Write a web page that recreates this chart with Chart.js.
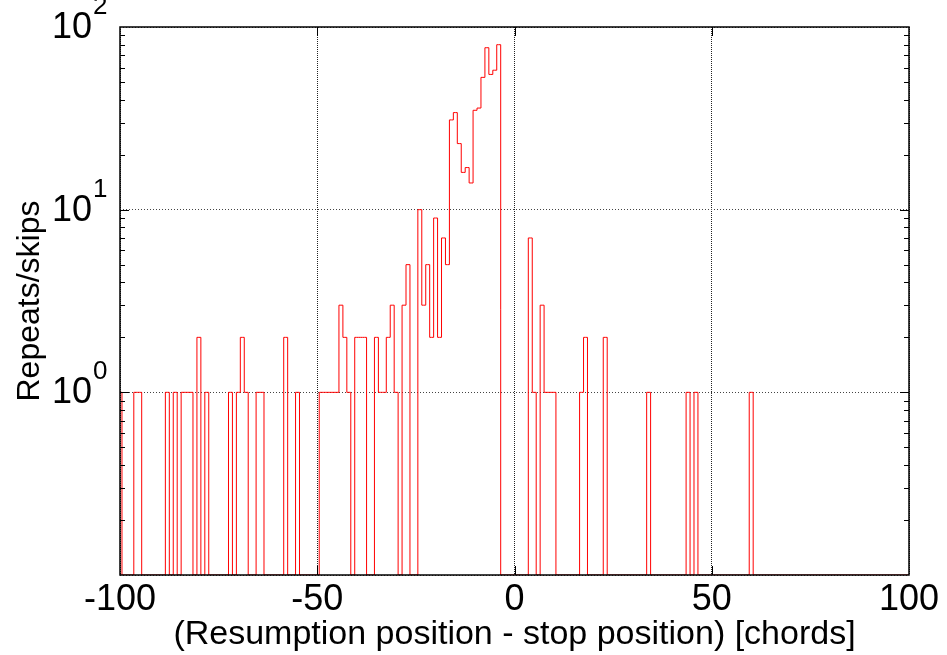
<!DOCTYPE html>
<html>
<head>
<meta charset="utf-8">
<title>Repeats/skips</title>
<script src="https://cdn.jsdelivr.net/npm/chart.js@4.4.1/dist/chart.umd.min.js"></script>
<style>
    html, body { margin: 0; padding: 0; background: #fff; }
</style>
</head>
<body>
<canvas id="grafico" width="947" height="655"></canvas>
<script>
// Datos del histograma: una cuenta por cada posicion entera, desde -100 hasta 100
const primeraPosicion = -100;
const repeticiones = [
    1, 0, 0, 0, 1, 1, 0, 0, 0, 0,          // -100 .. -91
    0, 0, 1, 0, 1, 0, 1, 1, 1, 0,          // -90 .. -81
    2, 0, 1, 0, 0, 0, 0, 0, 1, 0,          // -80 .. -71
    1, 2, 1, 0, 0, 1, 1, 0, 0, 0,          // -70 .. -61
    0, 0, 2, 0, 0, 1, 0, 0, 0, 0,          // -60 .. -51
    0, 1, 1, 1, 1, 1, 3, 2, 1, 0,          // -50 .. -41
    2, 2, 2, 0, 0, 2, 1, 1, 2, 3,          // -40 .. -31
    1, 0, 3, 5, 0, 0, 10, 3, 5, 2,         // -30 .. -21
    9, 2, 7, 5, 31, 34, 23, 16, 17, 14,    // -20 .. -11
    35, 36, 53, 77, 55, 58, 80, 0, 0, 0,   // -10 .. -1
    0, 0, 0, 0, 7, 1, 0, 3, 1, 1,          // 0 .. 9
    1, 0, 0, 0, 0, 0, 0, 1, 2, 0,          // 10 .. 19
    0, 0, 0, 2, 0, 0, 0, 0, 0, 0,          // 20 .. 29
    0, 0, 0, 0, 1, 0, 0, 0, 0, 0,          // 30 .. 39
    0, 0, 0, 0, 1, 0, 1, 0, 0, 0,          // 40 .. 49
    0, 0, 0, 0, 0, 0, 0, 0, 0, 0,          // 50 .. 59
    1, 0, 0, 0, 0, 0, 0, 0, 0, 0,          // 60 .. 69
    0, 0, 0, 0, 0, 0, 0, 0, 0, 0,          // 70 .. 79
    0, 0, 0, 0, 0, 0, 0, 0, 0, 0,          // 80 .. 89
    0, 0, 0, 0, 0, 0, 0, 0, 0, 0,          // 90 .. 99
    0                                      // 100
];
const ticksX = [-100, -50, 0, 50, 100];
const exponentesY = [0, 1, 2];        // etiquetas 10^0, 10^1, 10^2
const minimoY = 0.1;
const maximoY = 100;

const fuente = "'Liberation Sans', Arial, Helvetica, sans-serif";
Chart.defaults.font.family = fuente;

// Las cuentas en cero no existen en escala log: se dibujan en el piso del eje
const puntos = repeticiones.map((c, i) => ({ x: primeraPosicion + i, y: c > 0 ? c : minimoY }));

function esDecada(v) {
    const l = Math.log10(v);
    return Math.abs(l - Math.round(l)) < 1e-9;
}

// Plugin para el marco, las marcas hacia adentro y las etiquetas 10^n
const marcoPlugin = {
    id: 'marco',
    afterDatasetsDraw(chart) {
        const { ctx, chartArea: a, scales: { x, y } } = chart;
        ctx.save();

        ctx.strokeStyle = '#000';
        ctx.lineWidth = 1;
        ctx.beginPath();
        // marcas del eje x (abajo y arriba)
        ticksX.slice(1, -1).forEach(v => {
            const px = Math.round(x.getPixelForValue(v)) + 0.5;
            ctx.moveTo(px, a.bottom); ctx.lineTo(px, a.bottom - 9);
            ctx.moveTo(px, a.top); ctx.lineTo(px, a.top + 9);
        });
        // marcas del eje y, mayores y menores (izquierda y derecha)
        for (let d = minimoY; d < maximoY; d *= 10) {
            for (let k = 1; k < 10; k++) {
                const v = d * k;
                if (v <= minimoY * 1.0001) continue;
                const py = Math.round(y.getPixelForValue(v)) + 0.5;
                const largo = k === 1 ? 9 : 5;
                ctx.moveTo(a.left, py); ctx.lineTo(a.left + largo, py);
                ctx.moveTo(a.right, py); ctx.lineTo(a.right - largo, py);
            }
        }
        ctx.stroke();

        ctx.lineWidth = 1.5;
        ctx.strokeRect(a.left, a.top, a.right - a.left, a.bottom - a.top);

        // etiquetas con exponente
        ctx.fillStyle = '#000';
        exponentesY.forEach(e => {
            const py = y.getPixelForValue(Math.pow(10, e));
            ctx.font = '36px ' + fuente;
            ctx.textAlign = 'right';
            ctx.textBaseline = 'middle';
            ctx.fillText('10', a.left - 28, py + 1);
            ctx.font = '26px ' + fuente;
            ctx.textAlign = 'left';
            ctx.textBaseline = 'alphabetic';
            ctx.fillText(String(e), a.left - 27, py - 13);
        });
        ctx.restore();
    }
};

const ctx = document.getElementById('grafico').getContext('2d');
const miGrafico = new Chart(ctx, {
    type: 'line',
    data: {
        datasets: [{
            label: 'Repeats/skips',
            data: puntos,
            borderColor: '#ff0000',
            borderWidth: 1,
            pointRadius: 0,
            stepped: 'middle',
            fill: false
        }]
    },
    options: {
        responsive: false,
        animation: false,
        layout: { padding: { top: 27, right: 38, left: 0, bottom: 0 } },
        plugins: {
            legend: { display: false },
            tooltip: { enabled: false }
        },
        scales: {
            x: {
                type: 'linear',
                min: -100,
                max: 100,
                afterBuildTicks: eje => { eje.ticks = ticksX.map(v => ({ value: v })); },
                afterFit: eje => { eje.height = 80; },
                grid: { color: '#222', drawTicks: false },
                border: { display: false, dash: [1, 1] },
                ticks: {
                    color: '#000',
                    font: { size: 36 },
                    padding: 3,
                    maxRotation: 0,
                    autoSkip: false,
                    callback: v => String(v)
                },
                title: {
                    display: true,
                    text: '(Resumption position - stop position) [chords]',
                    color: '#000',
                    font: { size: 34 },
                    padding: { top: 0, bottom: 0 }
                }
            },
            y: {
                type: 'logarithmic',
                min: minimoY,
                max: maximoY,
                afterFit: eje => { eje.width = 120; },
                grid: {
                    color: c => (c.tick && esDecada(c.tick.value)) ? '#444' : 'rgba(0,0,0,0)',
                    drawTicks: false
                },
                border: { display: false, dash: [1, 2] },
                ticks: { display: false },
                title: {
                    display: true,
                    text: 'Repeats/skips',
                    color: '#000',
                    font: { size: 32 },
                    padding: { top: 11, bottom: 0 }
                }
            }
        }
    },
    plugins: [marcoPlugin]
});
</script>
</body>
</html>
